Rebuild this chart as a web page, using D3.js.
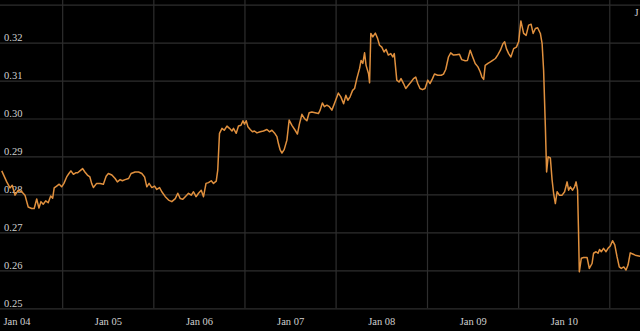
<!DOCTYPE html>
<html>
<head>
<meta charset="utf-8">
<script src="https://cdn.jsdelivr.net/npm/d3@7"></script>
<style>
  html, body { margin: 0; padding: 0; background: #000; }
  svg { display: block; background: #000; }
  .chart_label { fill: #d0d0d0; font-family: "Liberation Serif", "DejaVu Serif", serif; font-size: 10.5px; }
</style>
</head>
<body>
<svg id="chart" width="640" height="331"></svg>
<script>
// weekly-ish closing values
var dates = [
  "2003-11-03","2003-11-23","2003-12-06","2003-12-15","2003-12-26","2004-01-08","2004-01-22","2004-02-04",
  "2004-02-17","2004-03-02","2004-03-12","2004-03-22","2004-03-31","2004-04-08","2004-04-17","2004-04-27",
  "2004-05-07","2004-05-17","2004-05-25","2004-05-31","2004-06-10","2004-06-20","2004-06-30","2004-07-09",
  "2004-07-20","2004-07-29","2004-08-06","2004-08-16","2004-08-25","2004-09-02","2004-09-11","2004-09-22",
  "2004-10-01","2004-10-11","2004-10-21","2004-10-28","2004-11-04","2004-11-17","2004-12-01","2004-12-14",
  "2004-12-25","2005-01-03","2005-01-17","2005-01-30","2005-02-08","2005-02-19","2005-02-28","2005-03-11",
  "2005-03-25","2005-04-04","2005-04-20","2005-05-04","2005-05-17","2005-05-28","2005-06-06","2005-06-15",
  "2005-06-26","2005-07-07","2005-07-16","2005-07-27","2005-08-05","2005-08-19","2005-09-01","2005-09-14",
  "2005-09-28","2005-10-08","2005-10-18","2005-10-28","2005-11-07","2005-11-20","2005-12-01","2005-12-10",
  "2005-12-20","2005-12-30","2006-01-10","2006-01-19","2006-01-29","2006-02-08","2006-02-19","2006-02-28",
  "2006-03-11","2006-03-17","2006-03-24","2006-04-03","2006-04-12","2006-04-23","2006-05-03","2006-05-13",
  "2006-05-19","2006-05-30","2006-06-08","2006-06-18","2006-06-26","2006-07-02","2006-07-09","2006-07-16",
  "2006-07-25","2006-08-03","2006-08-11","2006-08-21","2006-09-03","2006-09-16","2006-09-30","2006-10-10",
  "2006-10-20","2006-10-30","2006-11-09","2006-11-15","2006-11-22","2006-11-29","2006-12-08","2006-12-19",
  "2006-12-28","2007-01-08","2007-01-21","2007-01-30","2007-02-07","2007-02-17","2007-02-27","2007-03-09",
  "2007-03-18","2007-03-29","2007-04-11","2007-04-24","2007-05-01","2007-05-10","2007-05-18","2007-05-28",
  "2007-06-07","2007-06-17","2007-06-30","2007-07-13","2007-07-23","2007-08-03","2007-08-12","2007-08-20",
  "2007-08-29","2007-09-08","2007-09-16","2007-09-25","2007-10-06","2007-10-12","2007-10-19","2007-10-26",
  "2007-11-01","2007-11-11","2007-11-15","2007-11-20","2007-11-28","2007-12-08","2007-12-17","2007-12-25",
  "2008-01-03","2008-01-12","2008-01-20","2008-01-29","2008-02-08","2008-02-16","2008-02-22","2008-03-03",
  "2008-03-12","2008-03-20","2008-03-30","2008-04-08","2008-04-19","2008-04-29","2008-05-09","2008-05-18",
  "2008-05-26","2008-06-04","2008-06-14","2008-06-24","2008-07-05","2008-07-14","2008-07-24","2008-08-01",
  "2008-08-14","2008-08-28","2008-09-06","2008-09-15","2008-09-26","2008-10-05","2008-10-16","2008-10-29",
  "2008-11-09","2008-11-18","2008-12-02","2008-12-11","2008-12-22","2009-01-01","2009-01-11","2009-01-22",
  "2009-01-31","2009-02-07","2009-02-14","2009-02-20","2009-03-03","2009-03-13","2009-03-22","2009-04-02",
  "2009-04-11","2009-04-22","2009-05-02","2009-05-09","2009-05-16","2009-05-25","2009-06-03","2009-06-14",
  "2009-06-25","2009-07-04","2009-07-13","2009-07-24","2009-08-03","2009-08-13","2009-08-23","2009-08-31",
  "2009-09-09","2009-09-18","2009-09-29","2009-10-06","2009-10-12","2009-10-19","2009-10-24","2009-10-30",
  "2009-11-08","2009-11-15","2009-11-21","2009-11-28","2009-12-05","2009-12-14","2009-12-25","2010-01-04",
  "2010-01-14","2010-01-20","2010-01-27","2010-02-05","2010-02-13","2010-02-19","2010-02-25","2010-03-01",
  "2010-03-04","2010-03-12","2010-03-21","2010-04-04","2010-04-13","2010-04-24","2010-04-30","2010-05-10",
  "2010-05-18","2010-05-24","2010-05-31","2010-06-09","2010-06-19","2010-06-27","2010-07-06","2010-07-15",
  "2010-07-24","2010-08-02","2010-08-11","2010-08-19","2010-08-29","2010-09-07","2010-09-15","2010-09-24",
  "2010-10-04","2010-10-14","2010-10-28","2010-11-04"
];

var values = [
  0.2862,0.2833,0.2817,0.2824,0.2798,0.2811,0.2807,0.2798,
  0.2767,0.2763,0.2763,0.2788,0.2764,0.2781,0.2774,0.2783,
  0.2778,0.2796,0.2790,0.2817,0.2822,0.2827,0.2820,0.2829,
  0.2846,0.2855,0.2862,0.2853,0.2857,0.2857,0.2862,0.2868,
  0.2859,0.2851,0.2846,0.2829,0.2818,0.2829,0.2829,0.2827,
  0.2848,0.2855,0.2851,0.2842,0.2833,0.2839,0.2836,0.2839,
  0.2842,0.2855,0.2859,0.2859,0.2855,0.2846,0.2820,0.2829,
  0.2818,0.2822,0.2813,0.2818,0.2807,0.2794,0.2785,0.2781,
  0.2789,0.2803,0.2789,0.2787,0.2794,0.2803,0.2798,0.2807,
  0.2794,0.2803,0.2811,0.2794,0.2829,0.2831,0.2836,0.2829,
  0.2835,0.2864,0.2961,0.2974,0.2969,0.2980,0.2974,0.2967,
  0.2974,0.2961,0.2980,0.2982,0.2994,0.2985,0.2994,0.2978,
  0.2971,0.2965,0.2967,0.2962,0.2965,0.2967,0.2971,0.2965,
  0.2969,0.2962,0.2952,0.2934,0.2917,0.2909,0.2918,0.2943,
  0.2996,0.2982,0.2969,0.2959,0.2985,0.3011,0.3000,0.2994,
  0.3015,0.3017,0.3015,0.3013,0.3022,0.3041,0.3031,0.3035,
  0.3031,0.3022,0.3044,0.3067,0.3057,0.3039,0.3061,0.3048,
  0.3057,0.3074,0.3079,0.3105,0.3132,0.3153,0.3145,0.3173,
  0.3140,0.3118,0.3094,0.3224,0.3215,0.3225,0.3211,0.3193,
  0.3188,0.3175,0.3182,0.3167,0.3171,0.3162,0.3171,0.3101,
  0.3096,0.3105,0.3092,0.3079,0.3088,0.3096,0.3105,0.3109,
  0.3092,0.3079,0.3076,0.3079,0.3101,0.3092,0.3105,0.3117,
  0.3114,0.3114,0.3117,0.3129,0.3162,0.3173,0.3167,0.3168,
  0.3169,0.3155,0.3152,0.3153,0.3180,0.3162,0.3145,0.3136,
  0.3123,0.3109,0.3103,0.3140,0.3145,0.3149,0.3153,0.3158,
  0.3167,0.3180,0.3197,0.3202,0.3184,0.3171,0.3162,0.3184,
  0.3188,0.3202,0.3257,0.3224,0.3219,0.3246,0.3248,0.3224,
  0.3237,0.3239,0.3224,0.3197,0.3127,0.2978,0.2859,0.2899,
  0.2896,0.2838,0.2803,0.2776,0.2807,0.2798,0.2798,0.2807,
  0.2833,0.2811,0.2820,0.2811,0.2820,0.2833,0.2811,0.2697,
  0.2596,0.2632,0.2634,0.2634,0.2605,0.2618,0.2645,0.2649,
  0.2645,0.2655,0.2649,0.2658,0.2649,0.2658,0.2664,0.2678,
  0.2667,0.2636,0.2609,0.2605,0.2609,0.2601,0.2614,0.2646,
  0.2643,0.2640,0.2638,0.2637
];

var yTicks = [0.25, 0.26, 0.27, 0.28, 0.29, 0.30, 0.31, 0.32, 0.33];
var yLabels = ["0.25", "0.26", "0.27", "0.28", "0.29", "0.30", "0.31", "0.32", ""];
var xLabelDates = ["2004-01-01","2005-01-01","2006-01-01","2007-01-01","2008-01-01","2009-01-01","2010-01-01"];
var xLabels = ["Jan 04","Jan 05","Jan 06","Jan 07","Jan 08","Jan 09","Jan 10"];
var cornerLabel = "J";
var gridDates = ["2004-07-04","2005-07-04","2006-07-04","2007-07-04","2008-07-04","2009-07-04","2010-07-04"];

var parse = d3.timeParse("%Y-%m-%d");
var data = dates.map(function(d, i) { return {time: parse(d), value: values[i]} });

var svg = d3.select("#chart"),
    width = 640,
    height = 331;

var x = d3.scaleTime()
  .domain([parse("2003-10-27"), parse("2010-11-02")])
  .range([0, width]);

var y = d3.scaleLinear()
  .domain([0.25, 0.33])
  .range([308.3, 4.6]);

var g = svg.append("g");

// horizontal grid, labels sit just above each line
g.append("g")
  .call(d3.axisRight(y).tickValues(yTicks).tickSize(width).tickFormat(function(d, i) { return yLabels[i] }))
  .call(function(a) {
    a.select(".domain").remove();
    a.selectAll(".tick line").attr("stroke", "#2e2e2e").attr("stroke-width", 1.2);
    a.selectAll(".tick text")
      .attr("class", "chart_label")
      .attr("x", 4)
      .attr("dy", -2)
      .attr("text-anchor", "start");
  });

// vertical grid at mid-year
g.selectAll(".vgrid")
  .data(gridDates)
  .enter().append("line")
    .attr("class", "vgrid")
    .attr("x1", function(d) { return x(parse(d)) })
    .attr("x2", function(d) { return x(parse(d)) })
    .attr("y1", 0)
    .attr("y2", y(0.25))
    .attr("stroke", "#2e2e2e")
    .attr("stroke-width", 1.2);

// x labels at Jan 1
g.append("g")
  .attr("transform", "translate(0," + y(0.25) + ")")
  .call(d3.axisBottom(x).tickValues(xLabelDates.map(parse)).tickSize(0)
    .tickFormat(function(d, i) { return xLabels[i] }))
  .call(function(a) {
    a.select(".domain").remove();
    a.selectAll(".tick text").attr("class", "chart_label").attr("y", 16.5).attr("dy", 0);
  });

g.append("text")
  .attr("class", "chart_label")
  .attr("x", 634.5)
  .attr("y", 16)
  .text(cornerLabel);

var line = d3.line()
  .x(function(d) { return x(d.time) })
  .y(function(d) { return y(d.value) });

g.append("path")
  .attr("fill", "none")
  .attr("stroke", "#e0903e")
  .attr("stroke-width", 1.5)
  .attr("stroke-linejoin", "round")
  .attr("d", line(data));
</script>
</body>
</html>
